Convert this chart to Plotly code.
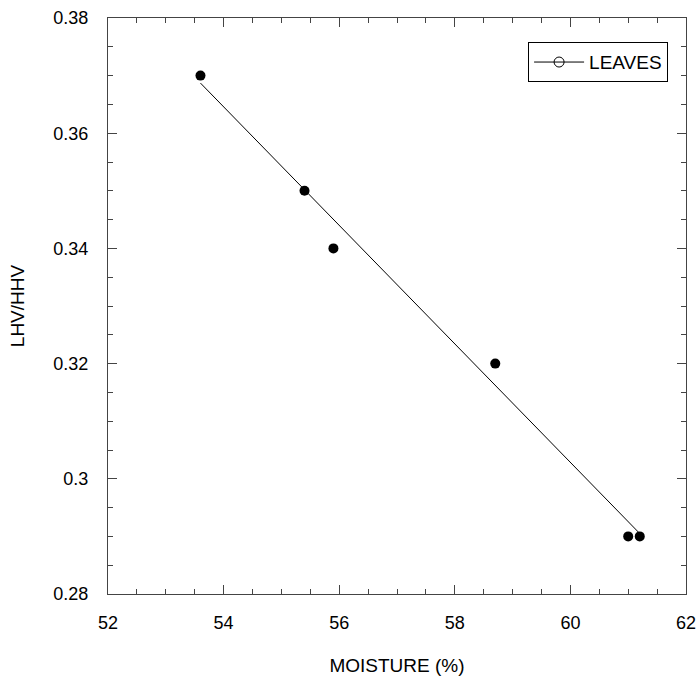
import plotly.graph_objects as go

moisture = [53.6, 55.4, 55.9, 58.7, 61.0, 61.2]
ratio = [0.37, 0.35, 0.34, 0.32, 0.29, 0.29]
fit_x = [53.6, 61.2]
fit_y = [0.3687, 0.2905]
series_name = "LEAVES"

FONT = "Liberation Sans, Arial, Helvetica, sans-serif"

fig = go.Figure()
fig.add_trace(go.Scatter(x=fit_x, y=fit_y, mode="lines",
                         line=dict(color="black", width=1), showlegend=False))
fig.add_trace(go.Scatter(x=moisture, y=ratio, mode="markers",
                         marker=dict(color="black", size=10), showlegend=False))
fig.add_trace(go.Scatter(x=[None], y=[None], mode="lines+markers", name=series_name,
                         line=dict(color="black", width=1),
                         marker=dict(symbol="circle-open", color="black", size=10),
                         showlegend=True))

axis_common = dict(
    showline=True, linecolor="#444", linewidth=1, mirror="ticks",
    ticks="inside", ticklen=9, tickcolor="#444", tickwidth=1,
    showgrid=False, zeroline=False, automargin=False,
    tickfont=dict(family=FONT, size=18, color="black"),
)

fig.update_xaxes(range=[52, 62], dtick=2, tick0=52,
                 minor=dict(dtick=0.5, ticks="inside", ticklen=5, tickcolor="#444", showgrid=False),
                 title=dict(text="MOISTURE (%)", font=dict(family=FONT, size=19, color="black"), standoff=27),
                 ticklabelstandoff=12,
                 **axis_common)
fig.update_yaxes(range=[0.28, 0.38], dtick=0.02, tick0=0.28,
                 minor=dict(dtick=0.005, ticks="inside", ticklen=5, tickcolor="#444", showgrid=False),
                 title=dict(text="LHV/HHV", font=dict(family=FONT, size=19, color="black"), standoff=23),
                 ticklabelstandoff=15,
                 **axis_common)

fig.update_layout(
    width=698, height=680,
    margin=dict(l=108, r=12, t=18, b=86),
    paper_bgcolor="white", plot_bgcolor="white",
    font=dict(family=FONT, color="black"),
    legend=dict(x=0.969, y=0.958, xanchor="right", yanchor="top",
                bordercolor="black", borderwidth=1, bgcolor="white",
                font=dict(family=FONT, size=19, color="black"),
                itemwidth=50),
)

fig.write_html("out.html", config={"displayModeBar": False},
               post_script="document.body.style.margin='0';document.body.style.padding='0';")
